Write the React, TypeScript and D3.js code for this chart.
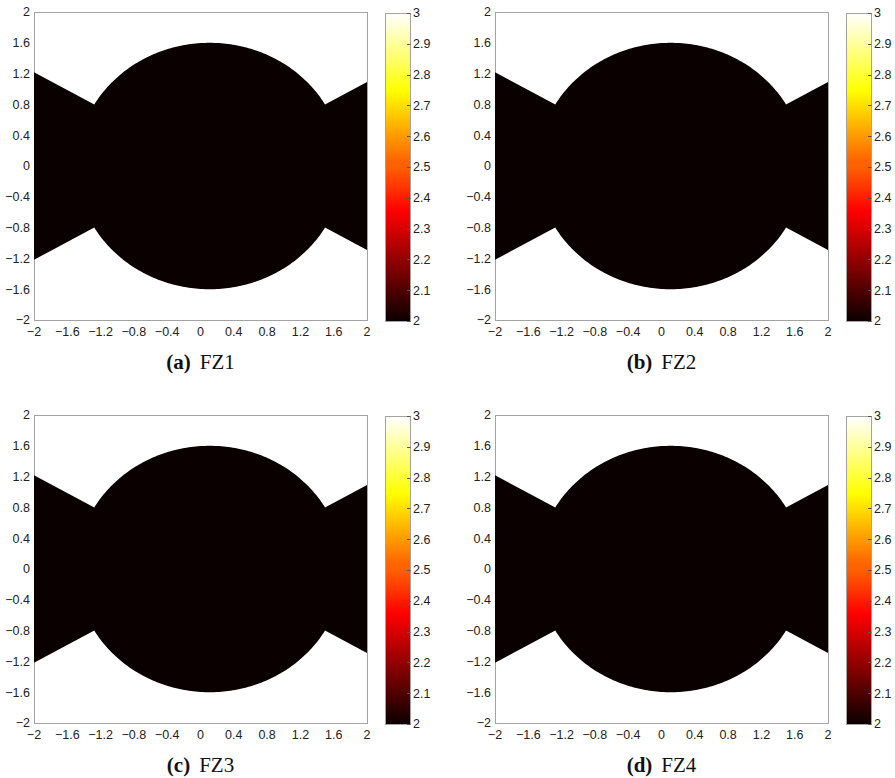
import React from "react";
import * as d3 from "d3";

// Panel metadata
const panelLetters = ["a", "b", "c", "d"];
const panelNames = ["FZ1", "FZ2", "FZ3", "FZ4"];
// Constant field value inside the feasible zone for each panel
const zoneValues = [2, 2, 2, 2];
// Zone geometry: disc centre (x), radius, half-angle of the double cone (degrees)
const discCenterX = [0.11, 0.11, 0.11, 0.11];
const discRadius = [1.6, 1.6, 1.6, 1.6];
const coneHalfAngle = [30, 30, 30, 30];

// Axis ticks
const axisTicks = [-2, -1.6, -1.2, -0.8, -0.4, 0, 0.4, 0.8, 1.2, 1.6, 2];
const colorTicks = [2, 2.1, 2.2, 2.3, 2.4, 2.5, 2.6, 2.7, 2.8, 2.9, 3];
const colorDomain = [2, 3];

const W = 895;
const H = 778;
const colOffsets = [0, 461];
const rowOffsets = [0, 403];
const plot = { left: 34, right: 367, top: 12, bottom: 320 };
const cbar = { x: 385, w: 25, top: 13, bottom: 321 };

// MATLAB-style "hot" colormap with 64 levels
function hot(t: number): string {
  const n = 64;
  const i = Math.max(0, Math.min(n - 1, Math.round(t * (n - 1))));
  const f = (i + 1) / n;
  const r = Math.min(1, f / (3 / 8));
  const g = Math.max(0, Math.min(1, (f - 3 / 8) / (3 / 8)));
  const b = Math.max(0, Math.min(1, (f - 3 / 4) / (1 / 4)));
  return d3.rgb(r * 255, g * 255, b * 255).formatHex();
}

const fmt = (v: number) => {
  const s = d3.format(".1f")(v);
  return s.replace(/\.0$/, "").replace(/^-0$/, "0");
};

function zonePath(k: number, x: d3.ScaleLinear<number, number>, y: d3.ScaleLinear<number, number>) {
  const cx = discCenterX[k];
  const r = discRadius[k];
  const a = (coneHalfAngle[k] * Math.PI) / 180;
  const tanA = Math.tan(a);
  const pts: [number, number][] = [];
  const arc = (from: number, to: number) => {
    d3.range(0, 121).forEach((i) => {
      const th = from + ((to - from) * i) / 120;
      pts.push([cx + r * Math.cos(th), r * Math.sin(th)]);
    });
  };
  pts.push([-2, tanA * (cx + 2)]);
  arc(Math.PI - a, a);
  pts.push([2, tanA * (2 - cx)]);
  pts.push([2, -tanA * (2 - cx)]);
  arc(-a, -Math.PI + a);
  pts.push([-2, -tanA * (cx + 2)]);
  const line = d3
    .line<[number, number]>()
    .x((d) => x(d[0]))
    .y((d) => y(d[1]));
  return line(pts) + "Z";
}

function Panel({ k }: { k: number }) {
  const ox = colOffsets[k % 2];
  const oy = rowOffsets[Math.floor(k / 2)];
  const x = d3.scaleLinear().domain([-2, 2]).range([plot.left, plot.right]);
  const y = d3.scaleLinear().domain([-2, 2]).range([plot.bottom, plot.top]);
  const c = d3.scaleLinear().domain(colorDomain).range([cbar.bottom, cbar.top]);
  const tNorm = (zoneValues[k] - colorDomain[0]) / (colorDomain[1] - colorDomain[0]);
  const gradId = `hotgrad-${k}`;
  const stops = d3.range(0, 65).map((i) => i / 64);
  const cx = (plot.left + plot.right) / 2;
  return (
    <g transform={`translate(${ox},${oy})`}>
      <defs>
        <linearGradient id={gradId} x1="0" y1="1" x2="0" y2="0">
          {stops.map((s, i) => (
            <stop key={i} offset={s} stopColor={hot(s)} />
          ))}
        </linearGradient>
      </defs>
      <rect
        x={plot.left + 0.5}
        y={plot.top + 0.5}
        width={plot.right - plot.left}
        height={plot.bottom - plot.top}
        fill="#fff"
        stroke="#a3a3a3"
        strokeWidth={1}
      />
      <path d={zonePath(k, x, y)} fill={hot(tNorm)} />
      {axisTicks.map((t) => (
        <text
          key={"yt" + t}
          x={plot.left - 4}
          y={y(t)}
          dy="0.35em"
          textAnchor="end"
          fontSize={12.5}
          fontFamily="Liberation Sans, Arial, sans-serif"
          fill="#222"
        >
          {fmt(t)}
        </text>
      ))}
      {axisTicks.map((t) => (
        <text
          key={"xt" + t}
          x={x(t)}
          y={plot.bottom + 15.5}
          textAnchor="middle"
          fontSize={12.5}
          fontFamily="Liberation Sans, Arial, sans-serif"
          fill="#222"
        >
          {fmt(t)}
        </text>
      ))}
      <rect
        x={cbar.x + 0.5}
        y={cbar.top + 0.5}
        width={cbar.w}
        height={cbar.bottom - cbar.top}
        fill={`url(#${gradId})`}
        stroke="#a3a3a3"
        strokeWidth={1}
      />
      {colorTicks.map((t) => (
        <g key={"ct" + t}>
          <line
            x1={cbar.x + cbar.w - 3}
            x2={cbar.x + cbar.w + 0.5}
            y1={Math.round(c(t)) + 0.5}
            y2={Math.round(c(t)) + 0.5}
            stroke="#555"
            strokeWidth={1}
          />
          <text
            x={cbar.x + cbar.w + 3}
            y={c(t)}
            dy="0.35em"
            fontSize={12.5}
            fontFamily="Liberation Sans, Arial, sans-serif"
            fill="#222"
          >
            {fmt(t)}
          </text>
        </g>
      ))}
      <text
        x={cx}
        y={369}
        textAnchor="middle"
        fontSize={21}
        fontFamily="Liberation Serif, Times New Roman, serif"
        fill="#111"
      >
        <tspan fontWeight="bold">({panelLetters[k]})</tspan>
        <tspan dx={9}>{panelNames[k]}</tspan>
      </text>
    </g>
  );
}

export default function App() {
  return (
    <svg
      width={W}
      height={H}
      style={{ position: "absolute", left: 0, top: 0, display: "block", background: "#fff" }}
    >
      {panelLetters.map((_, k) => (
        <Panel key={k} k={k} />
      ))}
    </svg>
  );
}
